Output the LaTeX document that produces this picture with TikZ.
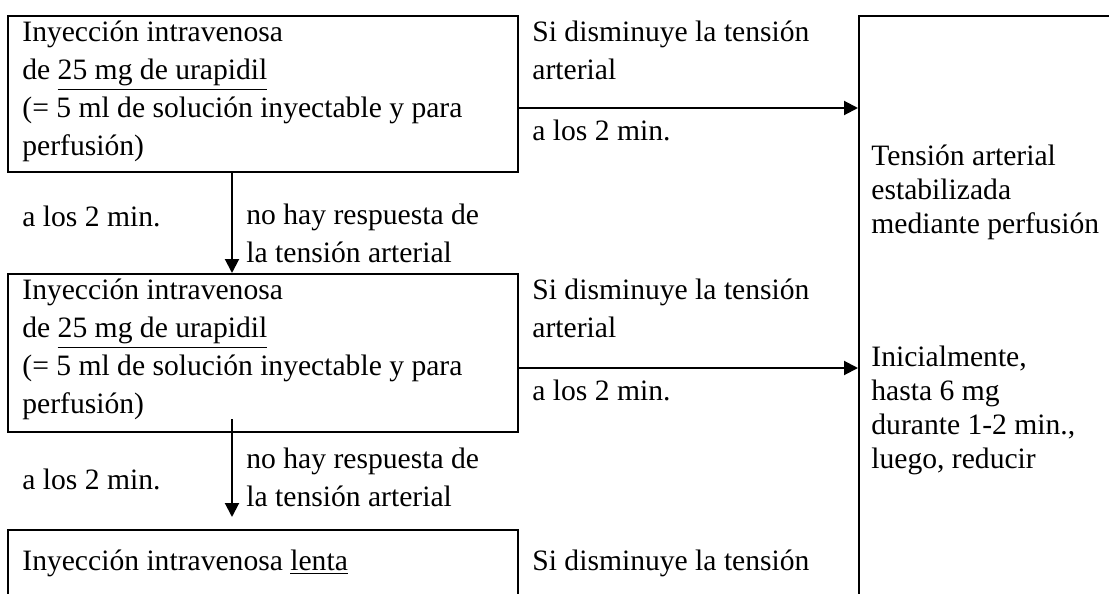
\documentclass[tikz,border=0pt]{standalone}
\usepackage{fontspec}
\setmainfont{Liberation Serif}
\usetikzlibrary{arrows.meta, positioning}

\begin{document}
\begin{tikzpicture}[
      % un'unita = un pixel del riferimento
      x=0.5pt,
      y=-0.5pt,
      line join=miter
  ]

  \tikzset{
      box/.style={draw, line width=1pt, anchor=north west, inner sep=0pt},
      lbl/.style={anchor=north west, inner sep=0pt, align=left,
                  font=\fontsize{14.8}{19}\selectfont,
                  execute at begin node=\rule{0pt}{11pt}},
      lblr/.style={lbl, font=\fontsize{14.8}{17}\selectfont},
      flow/.style={line width=1pt, -{Triangle[length=7pt, width=7pt]}}
  }

  \path[use as bounding box, clip] (0,0) rectangle (1109,594);

  % 1. Caselle
  \node[box, minimum width=255pt, minimum height=78pt]  (b1) at (7,15)  {};
  \node[box, minimum width=255pt, minimum height=79pt]  (b2) at (7,273) {};
  \node[box, minimum width=255pt, minimum height=100pt] (b3) at (7,529) {};
  \node[box, minimum width=150pt, minimum height=320pt] (rb) at (858,15) {};

  % 2. Testi delle caselle
  \node[lbl] (t1) at ([shift={(15,6)}]b1.north west)
      {Inyección intravenosa\\ de \underline{25 mg de urapidil}\\
       (= 5 ml de solución inyectable y para\\ perfusión)};
  \node[lbl] (t2) at ([shift={(15,6)}]b2.north west)
      {Inyección intravenosa\\ de \underline{25 mg de urapidil}\\
       (= 5 ml de solución inyectable y para\\ perfusión)};
  \node[lbl] (t3) at ([shift={(15,19)}]b3.north west)
      {Inyección intravenosa \underline{lenta}};
  \node[lblr] (tr1) at ([shift={(13,130)}]rb.north west)
      {Tensión arterial\\ estabilizada\\ mediante perfusión};
  \node[lblr] (tr2) at ([shift={(13,331)}]rb.north west)
      {Inicialmente,\\ hasta 6 mg\\ durante 1-2 min.,\\ luego, reducir};

  % 3. Frecce
  \coordinate (r1) at (0,108);
  \coordinate (r2) at (0,368);
  \coordinate (c1) at (232,0);
  \coordinate (s2) at (232,419);
  \coordinate (e2) at (232,517);
  \draw[flow] (b1.east |- r1) -- (rb.west |- r1);
  \draw[flow] (b2.east |- r2) -- (rb.west |- r2);
  \draw[flow] (b1.south -| c1) -- (b2.north -| c1);
  \draw[flow] (s2) -- (e2);

  % 4. Etichette delle frecce
  \node[lbl] (s1a) at ([shift={(13,6)}]b1.north east) {Si disminuye la tensión\\ arterial};
  \node[lbl] (m1a) at ([shift={(13,10)}]b1.east |- r1) {a los 2 min.};
  \node[lbl] (s2a) at ([shift={(13,6)}]b2.north east) {Si disminuye la tensión\\ arterial};
  \node[lbl] (m2a) at ([shift={(13,10)}]b2.east |- r2) {a los 2 min.};
  \node[lbl] (s3a) at ([shift={(13,19)}]b3.north east) {Si disminuye la tensión};

  \node[lbl] (m1b) at ([shift={(15,31)}]b1.south west) {a los 2 min.};
  \node[lbl] (n1)  at ([shift={(14,31)}]b1.south -| c1) {no hay respuesta de\\ la tensión arterial};
  \node[lbl] (m2b) at ([shift={(15,34)}]b2.south west) {a los 2 min.};
  \node[lbl] (n2)  at ([shift={(14,15)}]b2.south -| c1) {no hay respuesta de\\ la tensión arterial};

\end{tikzpicture}
\end{document}
